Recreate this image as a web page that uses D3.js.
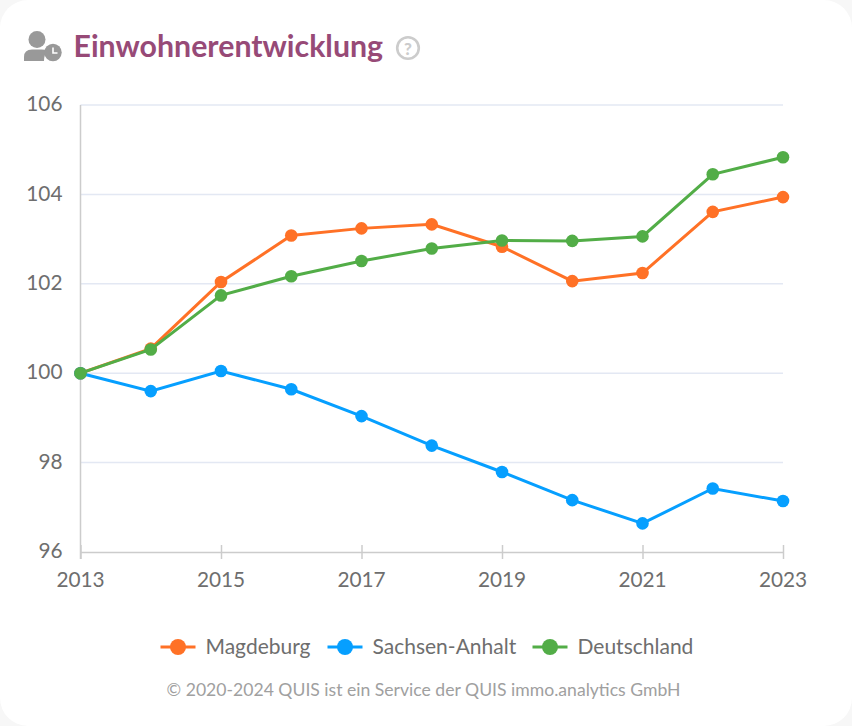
<!DOCTYPE html>
<head>
  <meta charset="utf-8">
  <title>Einwohnerentwicklung</title>
  <style>
      html, body {
          margin: 0;
          padding: 0;
          background-color: #f7f7f7;
      }

      #card {
          position: absolute;
          left: 0;
          top: 0;
          width: 852px;
          height: 726px;
          background: #fff;
          border-radius: 28px;
      }

      text {
          font-family: Lato, sans-serif;
      }
  </style>
  <script src="https://d3js.org/d3.v7.js"></script>
</head>
<body>

<div id="card"></div>

<script>
    // data (index, 2013 = 100)
    const years = [2013, 2014, 2015, 2016, 2017, 2018, 2019, 2020, 2021, 2022, 2023];
    const magdeburg = [100, 100.55, 102.04, 103.08, 103.24, 103.33, 102.83, 102.06, 102.24, 103.61, 103.94];
    const sachsenAnhalt = [100, 99.6, 100.05, 99.64, 99.04, 98.38, 97.79, 97.16, 96.64, 97.42, 97.14];
    const deutschland = [100, 100.53, 101.74, 102.17, 102.51, 102.79, 102.97, 102.96, 103.06, 104.45, 104.83];
    const yTicks = [96, 98, 100, 102, 104, 106];
    const xTicks = [2013, 2015, 2017, 2019, 2021, 2023];
    const seriesNames = ["Magdeburg", "Sachsen-Anhalt", "Deutschland"];
    const seriesColors = ["#ff7126", "#069fff", "#52ad47"];
    const seriesValues = [magdeburg, sachsenAnhalt, deutschland];

    const titleText = "Einwohnerentwicklung";
    const footerText = "© 2020-2024 QUIS ist ein Service der QUIS immo.analytics GmbH";

    const svg = d3.select("#card")
        .append("svg")
        .attr("width", 852)
        .attr("height", 726)
        .style("display", "block");

    const x = d3.scaleLinear().domain([2013, 2023]).range([80.5, 783]);
    const y = d3.scaleLinear().domain([96, 106]).range([552, 105]);

    // grid
    svg.append("g")
        .selectAll("line")
        .data(yTicks.slice(1))
        .join("line")
        .attr("x1", x(2013))
        .attr("x2", x(2023))
        .attr("y1", d => y(d))
        .attr("y2", d => y(d))
        .attr("stroke", "#e3e8f3")
        .attr("stroke-width", 1.5);

    // y axis
    const yAxis = svg.append("g")
        .attr("transform", `translate(${x(2013)}, 0)`)
        .call(d3.axisLeft(y).tickValues(yTicks).tickSize(0).tickPadding(18));
    yAxis.select(".domain").remove();
    yAxis.selectAll("text")
        .attr("fill", "#6e6e6e")
        .attr("dy", "0.27em")
        .style("font-family", "Lato, sans-serif")
        .style("font-size", "20.8px");
    svg.append("line")
        .attr("x1", x(2013))
        .attr("x2", x(2013))
        .attr("y1", y(106))
        .attr("y2", y(96) + 7)
        .attr("stroke", "#ccc")
        .attr("stroke-width", 1.5);

    // x axis
    const xAxis = svg.append("g")
        .attr("transform", `translate(0, ${y(96)})`)
        .call(d3.axisBottom(x).tickValues(xTicks).tickFormat(d3.format("d")).tickSize(7).tickPadding(13).tickSizeOuter(0));
    xAxis.select(".domain").attr("stroke", "#ccc").attr("stroke-width", 1.5);
    xAxis.selectAll(".tick line")
        .attr("y1", -7)
        .attr("stroke", "#ccc")
        .attr("stroke-width", 1.5);
    xAxis.selectAll("text")
        .attr("fill", "#6e6e6e")
        .attr("dx", -0.5)
        .style("font-family", "Lato, sans-serif")
        .style("font-size", "20.8px");

    // lines and points
    const line = d3.line()
        .x((d, i) => x(years[i]))
        .y(d => y(d));

    seriesValues.forEach((values, s) => {
        const g = svg.append("g");
        g.append("path")
            .attr("d", line(values))
            .attr("fill", "none")
            .attr("stroke", seriesColors[s])
            .attr("stroke-width", 3);
        g.selectAll("circle")
            .data(values)
            .join("circle")
            .attr("cx", (d, i) => x(years[i]))
            .attr("cy", d => y(d))
            .attr("r", 6.3)
            .attr("fill", seriesColors[s]);
    });

    // legend
    const legendX = [160.5, 327.5, 532.5];
    const legendY = 647;
    seriesNames.forEach((name, s) => {
        const g = svg.append("g").attr("transform", `translate(${legendX[s]}, ${legendY})`);
        g.append("line")
            .attr("x1", 0)
            .attr("x2", 35)
            .attr("stroke", seriesColors[s])
            .attr("stroke-width", 3);
        g.append("circle")
            .attr("cx", 17.5)
            .attr("r", 8)
            .attr("fill", seriesColors[s]);
        g.append("text")
            .attr("x", 45)
            .attr("dy", "0.32em")
            .attr("fill", "#6e6e6e")
            .style("font-size", "21px")
            .text(name);
    });

    // footer
    svg.append("text")
        .attr("x", 423.5)
        .attr("y", 696)
        .attr("text-anchor", "middle")
        .attr("fill", "#a0a0a0")
        .style("font-size", "17.6px")
        .text(footerText);

    // title
    svg.append("text")
        .attr("x", 73.5)
        .attr("y", 57)
        .attr("fill", "#974a77")
        .style("font-size", "30.3px")
        .style("font-weight", 700)
        .text(titleText);

    // person with clock icon
    const icon = svg.append("g").attr("fill", "#999");
    icon.append("circle").attr("cx", 37).attr("cy", 39.5).attr("r", 8.5);
    icon.append("path").attr("d", "M24 61 v-4 q0 -7.5 8 -7.5 h9.5 q3.5 0 6 1.2 q-3.5 3.5 -3.5 10.3 z");
    icon.append("circle").attr("cx", 53).attr("cy", 52.5).attr("r", 8.7);
    icon.append("path")
        .attr("d", "M53 47.5 v5.5 h4.5")
        .attr("fill", "none")
        .attr("stroke", "#fff")
        .attr("stroke-width", 1.6);

    // help icon
    svg.append("circle")
        .attr("cx", 408)
        .attr("cy", 48)
        .attr("r", 10.8)
        .attr("fill", "none")
        .attr("stroke", "#ccc")
        .attr("stroke-width", 2.6);
    svg.append("text")
        .attr("x", 408)
        .attr("y", 54.5)
        .attr("text-anchor", "middle")
        .attr("fill", "#ccc")
        .style("font-size", "17px")
        .style("font-weight", 900)
        .text("?");
</script>

</body>
